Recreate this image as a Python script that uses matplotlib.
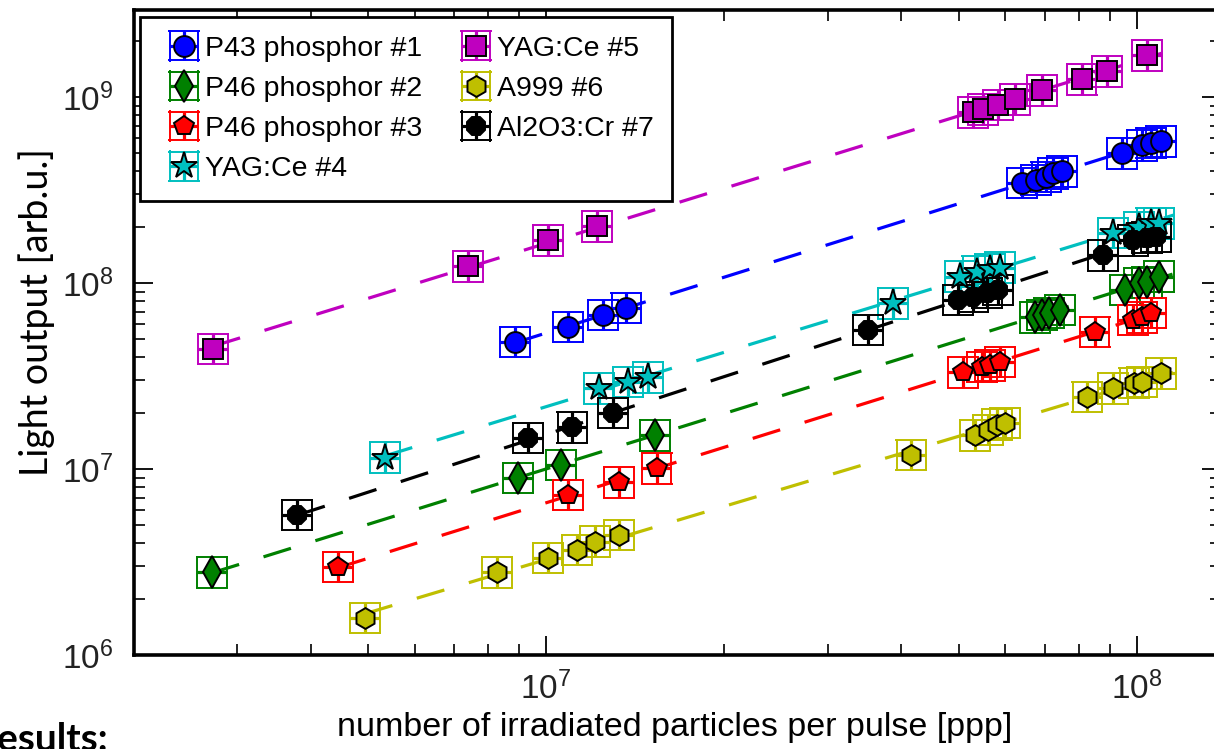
import numpy as np
import matplotlib.pyplot as plt

plt.rcParams['font.family'] = ['Liberation Sans', 'DejaVu Sans']
plt.rcParams['mathtext.default'] = 'regular'

labels = ['P43 phosphor #1', 'P46 phosphor #2', 'P46 phosphor #3', 'YAG:Ce #4',
          'YAG:Ce #5', 'A999 #6', 'Al2O3:Cr #7']
colors = ['b', 'g', 'r', 'c', 'm', 'y', 'k']
markers = ['o', 'd', 'p', '*', 's', 'h', '8']
msizes = [15, 16, 15, 20, 14, 15, 14]

# particles per pulse / light output
x1 = [8.86e6, 1.09e7, 1.25e7, 1.37e7, 6.41e7, 6.77e7, 7.04e7, 7.21e7, 7.47e7, 9.44e7, 1.02e8, 1.06e8, 1.10e8]
y1 = [4.82e7, 5.80e7, 6.73e7, 7.34e7, 3.45e8, 3.58e8, 3.72e8, 3.90e8, 4.00e8, 5.00e8, 5.52e8, 5.66e8, 5.80e8]

x2 = [2.72e6, 8.97e6, 1.06e7, 1.53e7, 6.72e7, 6.91e7, 7.12e7, 7.41e7, 9.55e7, 1.01e8, 1.04e8, 1.09e8]
y2 = [2.79e6, 8.95e6, 1.05e7, 1.52e7, 6.56e7, 6.73e7, 6.90e7, 7.17e7, 9.17e7, 1.00e8, 1.01e8, 1.08e8]

x3 = [4.45e6, 1.09e7, 1.33e7, 1.54e7, 5.08e7, 5.47e7, 5.64e7, 5.87e7, 8.49e7, 9.85e7, 1.02e8, 1.06e8]
y3 = [2.97e6, 7.25e6, 8.50e6, 1.01e7, 3.32e7, 3.54e7, 3.62e7, 3.76e7, 5.46e7, 6.33e7, 6.56e7, 6.90e7]

x4 = [5.34e6, 1.23e7, 1.38e7, 1.49e7, 3.87e7, 5.02e7, 5.38e7, 5.64e7, 5.87e7, 9.11e7, 1.01e8, 1.06e8, 1.09e8]
y4 = [1.15e7, 2.72e7, 2.94e7, 3.12e7, 7.80e7, 1.08e8, 1.15e8, 1.19e8, 1.21e8, 1.86e8, 2.00e8, 2.10e8, 2.10e8]

x5 = [2.73e6, 7.38e6, 1.01e7, 1.22e7, 5.28e7, 5.49e7, 5.82e7, 6.22e7, 6.93e7, 8.07e7, 8.90e7, 1.04e8]
y5 = [4.42e7, 1.23e8, 1.70e8, 2.02e8, 8.30e8, 8.61e8, 9.06e8, 9.75e8, 1.09e9, 1.25e9, 1.38e9, 1.68e9]

x6 = [4.94e6, 8.26e6, 1.01e7, 1.13e7, 1.21e7, 1.33e7, 4.16e7, 5.32e7, 5.60e7, 5.80e7, 5.98e7,
      8.26e7, 9.11e7, 9.92e7, 1.02e8, 1.10e8]
y6 = [1.58e6, 2.79e6, 3.32e6, 3.67e6, 4.06e6, 4.42e6, 1.19e7, 1.52e7, 1.62e7, 1.73e7, 1.77e7,
      2.44e7, 2.72e7, 2.90e7, 2.94e7, 3.28e7]

x7 = [3.80e6, 9.32e6, 1.11e7, 1.30e7, 3.51e7, 4.98e7, 5.28e7, 5.58e7, 5.82e7, 8.76e7, 9.85e7, 1.04e8, 1.08e8]
y7 = [5.66e6, 1.47e7, 1.68e7, 2.00e7, 5.59e7, 8.10e7, 8.41e7, 8.84e7, 9.17e7, 1.41e8, 1.70e8, 1.75e8, 1.77e8]

xs = [x1, x2, x3, x4, x5, x6, x7]
ys = [y1, y2, y3, y4, y5, y6, y7]

# relative errors (multiplicative)
xerr_fac = 1.06
yerr_fac = 1.21

fig = plt.figure(figsize=(12.14, 7.49), dpi=100)
ax = fig.add_axes([0.1104, 0.1255, 0.8954, 0.8611])

# power-law fits as dashed lines
for x, y, c in zip(xs, ys, colors):
    x, y = np.array(x), np.array(y)
    k, b = np.polyfit(np.log10(x), np.log10(y), 1)
    xf = np.array([x.min(), x.max() * 1.06])
    ax.plot(xf, 10 ** (k * np.log10(xf) + b), color=c, lw=2.3,
            linestyle=(0, (9, 8)), zorder=1)

for x, y, c, m, ms, lab in zip(xs, ys, colors, markers, msizes, labels):
    x, y = np.array(x), np.array(y)
    xe = [x - x / xerr_fac, x * xerr_fac - x]
    ye = [y - y / yerr_fac, y * yerr_fac - y]
    ax.errorbar(x, y, xerr=xe, yerr=ye, fmt=m, color=c, mfc=c, mec='k', mew=1.4,
                ms=ms, ecolor=c, elinewidth=2.3, capsize=11.5, capthick=2.4,
                label=lab, zorder=3)

ax.set_xscale('log')
ax.set_yscale('log')
ax.set_xlim(2.01e6, 1.39e8)
ax.set_ylim(1e6, 2.94e9)

ax.set_xticks([1e7, 1e8])
ax.set_xticklabels(['$10^{7}$', '$10^{8}$'])
ax.set_yticks([1e6, 1e7, 1e8, 1e9])
ax.set_yticklabels(['$10^{6}$', '$10^{7}$', '$10^{8}$', '$10^{9}$'])

ax.tick_params(which='both', direction='in', top=True, right=True, color='k')
ax.tick_params(which='major', length=14, width=1.3, labelsize=24, labelcolor='#222222')
ax.tick_params(axis='y', which='major', pad=15)
ax.tick_params(axis='x', which='major', pad=12)
ax.tick_params(which='minor', length=8, width=1.2)
for s in ax.spines.values():
    s.set_linewidth(2.6)

ax.set_xlabel('number of irradiated particles per pulse [ppp]', fontsize=24.5)
ax.xaxis.set_label_coords(0.4977, -0.088)
ax.set_ylabel('Light output [arb.u.]', fontsize=27, family='Lato')
ax.yaxis.set_label_coords(-0.073, 0.532)

leg = ax.legend(loc='upper left', bbox_to_anchor=(0.0055, 0.989), borderaxespad=0,
                ncol=2, fontsize=20.5, handlelength=1.78, handletextpad=-0.15,
                labelspacing=0.5, columnspacing=1.0, borderpad=0.65,
                fancybox=False, framealpha=1, edgecolor='k')
leg.get_frame().set_linewidth(2.0)

fig.text(108 / 1214, -0.003, 'Results:', ha='right', va='baseline',
         fontsize=28, fontweight='bold', family='Lato')

fig.savefig('out.png', dpi=100)
